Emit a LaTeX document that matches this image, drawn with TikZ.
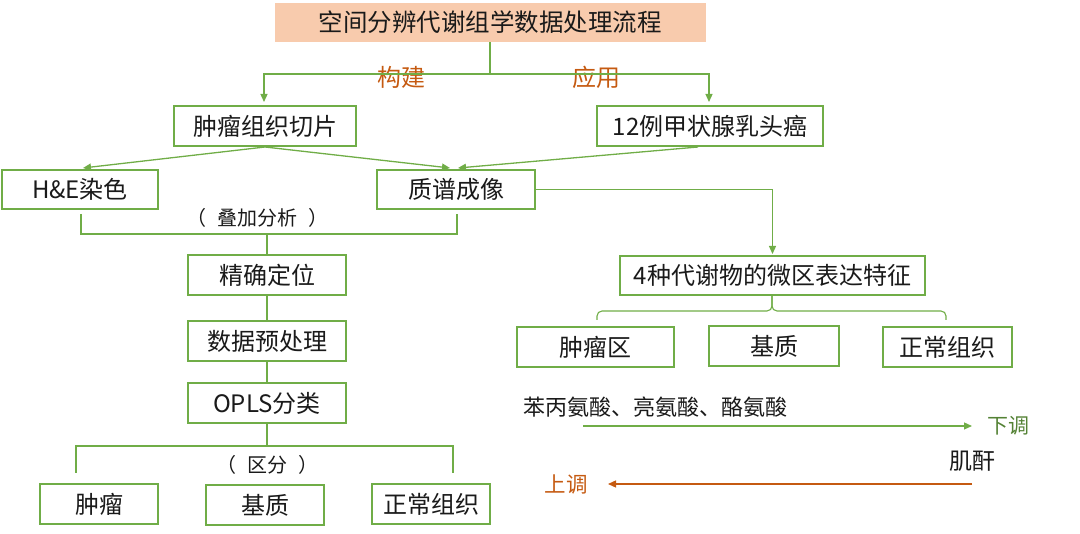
\documentclass[tikz,border=0pt]{standalone}
\usepackage{fontspec}
\setmainfont{Noto Sans CJK SC}
\usetikzlibrary{arrows.meta}
\definecolor{gline}{HTML}{70AD47}
\definecolor{orng}{HTML}{C55A11}
\definecolor{peach}{HTML}{F8CBAD}
\definecolor{dgreen}{HTML}{548235}
\definecolor{txt}{HTML}{1A1A1A}
\tikzset{
  box/.style={draw=gline, line width=2pt, fill=white, inner sep=0pt,
    minimum height=40pt, text=txt, font=\fontsize{24}{28}\selectfont},
  conn/.style={draw=gline, line width=1.3pt},
  arr/.style={conn, -{Triangle[length=8pt,width=7pt]}},
  note/.style={text=txt, inner sep=0pt, font=\fontsize{20}{24}\selectfont},
  lbl/.style={inner sep=0pt, font=\fontsize{24}{28}\selectfont}
}
\begin{document}
\begin{tikzpicture}[x=1pt,y=-1pt]
\useasboundingbox (0,0) rectangle (1080,534);
% title
\node[fill=peach, inner sep=0pt, minimum width=431pt, minimum height=39pt, text=txt,
  font=\fontsize{24.5}{28}\selectfont] (title) at (490,22.5) {空间分辨代谢组学数据处理流程};
% second level
\node[box, minimum width=182pt] (slice) at (265,126) {肿瘤组织切片};
\node[box, minimum width=226pt] (cases) at (710,126) {12例甲状腺乳头癌};
% third level
\node[box, minimum width=156pt, minimum height=39pt] (he) at (80,189.5) {H\&E染色};
\node[box, minimum width=158pt, minimum height=39pt] (ms) at (456,189.5) {质谱成像};
% left column
\node[box, minimum width=158pt] (loc) at (267,275) {精确定位};
\node[box, minimum width=158pt] (pre) at (267,341) {数据预处理};
\node[box, minimum width=158pt] (opls) at (267,403) {OPLS分类};
\node[box, minimum width=118pt] (t1) at (99,504) {肿瘤};
\node[box, minimum width=118pt] (m1) at (265,505) {基质};
\node[box, minimum width=118pt] (n1) at (431,504) {正常组织};
% right column
\node[box, minimum width=305pt, minimum height=39pt] (feat) at (772.5,275.5) {4种代谢物的微区表达特征};
\node[box, minimum width=157pt] (t2) at (595.5,347) {肿瘤区};
\node[box, minimum width=130pt] (m2) at (774,346) {基质};
\node[box, minimum width=129pt] (n2) at (947.5,347) {正常组织};

% labels
\node[lbl, text=orng] (build) at (401,77) {构建};
\node[lbl, text=orng] (apply) at (596,77) {应用};
\node[note] (overlay) at (257,218) {（\hspace{11pt}叠加分析\hspace{11pt}）};
\node[note] (dist) at (267,465) {（\hspace{11pt}区分\hspace{11pt}）};
\node[text=txt, inner sep=0pt, font=\fontsize{22}{26}\selectfont] (aa) at (655,407) {苯丙氨酸、亮氨酸、酪氨酸};
\node[text=dgreen, inner sep=0pt, font=\fontsize{21}{25}\selectfont] (down) at (1008,426) {下调};
\node[text=txt, inner sep=0pt, font=\fontsize{23}{27}\selectfont] (crea) at (972,461) {肌酐};
\node[text=orng, inner sep=0pt, font=\fontsize{21.5}{25}\selectfont] (up) at (566,484) {上调};

% title split
\coordinate (split) at (490,74);
\draw[conn] (title.south) -- (split);
\draw[arr] (split) -| ([xshift=-1pt,yshift=3pt]slice.north);
\draw[arr] (split) -| ([xshift=-1pt,yshift=3pt]cases.north);
% to third level
\draw[arr] (slice.south) -- ([xshift=3pt,yshift=1pt]he.north);
\draw[arr] (slice.south) -- ([xshift=-6pt,yshift=1pt]ms.north);
\draw[arr] ([xshift=-12pt]cases.south) -- ([xshift=2pt,yshift=1pt]ms.north);
% MS to features
\draw[arr] (ms.east) -| ([yshift=1pt]feat.north);
% overlay bracket
\coordinate (ovl) at (267,234);
\draw[conn] ([xshift=1pt,yshift=-4pt]he.south) |- (ovl) -| ([xshift=1pt,yshift=-4pt]ms.south);
\draw[conn] (ovl) -- (loc.north);
\draw[conn] (loc.south) -- (pre.north);
\draw[conn] (pre.south) -- (opls.north);
% distinguish bracket
\coordinate (dc) at (267,446);
\coordinate (dl) at (76,473);
\coordinate (dr) at (453,473);
\draw[conn] (opls.south) -- (dc);
\draw[conn] (dl) |- (dc) -| (dr);
% feature brace
\coordinate (fc) at (772,311);
\coordinate (fl) at (597,320);
\coordinate (fr) at (946,320);
\draw[conn, line width=1.1pt, rounded corners=5pt] (feat.south -| fc) -- (fc) -| (fl);
\draw[conn, line width=1.1pt, rounded corners=5pt] (feat.south -| fc) -- (fc) -| (fr);
% regulation arrows
\coordinate (g1) at (583,426);
\coordinate (g2) at (972,426);
\draw[arr, line width=1.2pt] (g1) -- (g2);
\coordinate (o1) at (972,484);
\coordinate (o2) at (608,484);
\draw[draw=orng, line width=1.3pt, -{Triangle[length=8pt,width=7pt]}] (o1) -- (o2);
\end{tikzpicture}
\end{document}
